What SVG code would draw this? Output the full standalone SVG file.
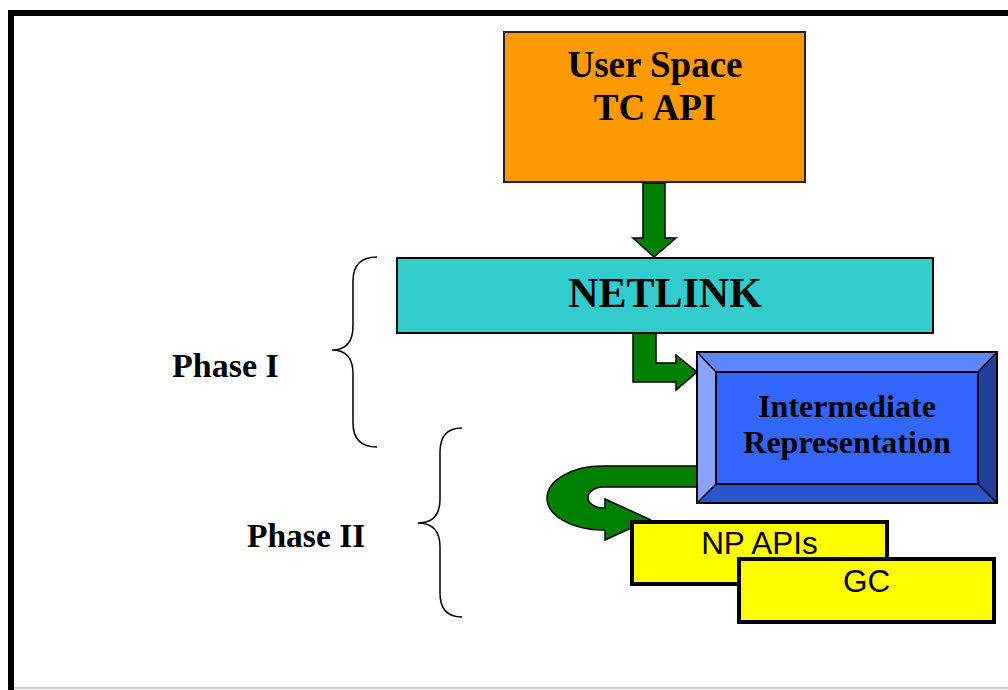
<svg xmlns="http://www.w3.org/2000/svg" width="1008" height="690" viewBox="0 0 1008 690">
<style>
.serif{font-family:"Liberation Serif","Times New Roman",serif;font-weight:bold;fill:#000}
.sans{font-family:"Liberation Sans",Arial,sans-serif;fill:#000}
.arrow{fill:#008000;stroke:#000;stroke-width:1.5;stroke-linejoin:miter}
.brace{fill:none;stroke:#000;stroke-width:1.5}
.ybox{fill:#ffff00;stroke:#000;stroke-width:4}
</style>
<rect width="1008" height="690" fill="#fff"/>
<g id="frame">
<rect x="8" y="10" width="1000" height="6" fill="#000"/>
<rect x="8" y="10" width="6" height="680" fill="#000"/>
<line x1="14" y1="688" x2="1008" y2="688" stroke="#999" stroke-width="1"/>
</g>
<g id="braces">
<path class="brace" d="M377 257 Q353 257 353 281 L353 326 Q353 350 332 350 Q353 350 353 374 L353 423 Q353 447 377 447"/>
<path class="brace" d="M462 428 Q440 428 440 452 L440 499 Q440 523 418 523 Q440 523 440 547 L440 593 Q440 617 462 617"/>
<text class="serif" x="172" y="377" font-size="34">Phase I</text>
<text class="serif" x="247" y="547" font-size="33.5">Phase II</text>
</g>
<g id="connectors">
<path class="arrow" d="M643 183 L665 183 L665 238 L676 238 L654 257 L633 238 L643 238 Z"/>
<path class="arrow" d="M633 333 L656 333 L656 363 L676 363 L676 355 L697 372 L676 390 L676 382 L633 382 Z"/>
<path class="arrow" d="M697 466 L603 466 A56 32 0 0 0 603 530 L605 530 L605 540 L650 519.5 L605 499 L605 508 L603 508 A15 10.5 0 0 1 603 487 L697 487 Z"/>
</g>
<g id="user-space">
<rect x="504" y="32" width="301" height="150" fill="#ff9900" stroke="#222" stroke-width="2"/>
<text class="serif" x="655" y="77" font-size="37" text-anchor="middle">User Space</text>
<text class="serif" x="655" y="120" font-size="37" text-anchor="middle">TC API</text>
</g>
<g id="netlink">
<rect x="397" y="258" width="536" height="75" fill="#33cccc" stroke="#000" stroke-width="2"/>
<text class="serif" x="665" y="307" font-size="42" text-anchor="middle">NETLINK</text>
</g>
<g id="intermediate">
<polygon points="697,352 997,352 978,372 716,372" fill="#5c85ff"/>
<polygon points="697,352 716,372 716,484 697,503" fill="#88a4ff"/>
<polygon points="997,352 997,503 978,484 978,372" fill="#1f3f99"/>
<polygon points="697,503 997,503 978,484 716,484" fill="#2b55cc"/>
<rect x="716" y="372" width="262" height="112" fill="#3366ff" stroke="#000" stroke-width="2"/>
<rect x="697" y="352" width="300" height="151" fill="none" stroke="#000" stroke-width="2"/>
<path d="M697 352 L716 372 M997 352 L978 372 M997 503 L978 484 M697 503 L716 484" stroke="#000" stroke-width="1.5"/>
<text class="serif" x="847" y="417" font-size="32" text-anchor="middle">Intermediate</text>
<text class="serif" x="847" y="453" font-size="32" text-anchor="middle">Representation</text>
</g>
<g id="np-apis">
<rect class="ybox" x="632" y="522" width="255" height="62"/>
<text class="sans" x="759.5" y="554" font-size="31.5" text-anchor="middle">NP APIs</text>
</g>
<g id="gc">
<rect class="ybox" x="739" y="559" width="255" height="63"/>
<text class="sans" x="866.5" y="592" font-size="31.5" text-anchor="middle">GC</text>
</g>
</svg>
